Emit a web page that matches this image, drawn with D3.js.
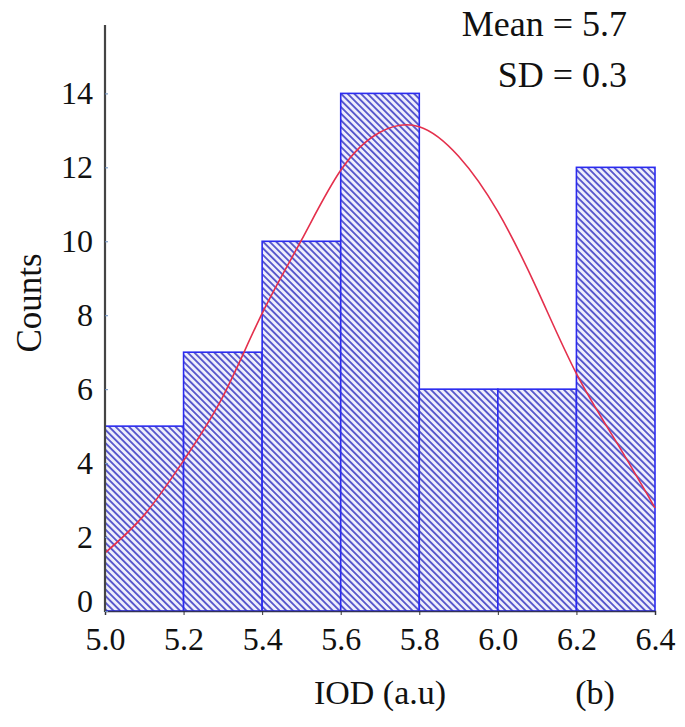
<!DOCTYPE html>
<html>
<head>
<meta charset="utf-8">
<script src="https://cdn.jsdelivr.net/npm/d3@7"></script>
<style>
  body { margin: 0; background: #fff; }
  svg text { font-family: "Liberation Serif", "Times New Roman", serif !important; fill: #111; }
</style>
</head>
<body>
<script>
// histogram bins (IOD, a.u) and counts
var binEdges = [5.0, 5.2, 5.4, 5.6, 5.8, 6.0, 6.2, 6.4];
var counts = [5, 7, 10, 14, 6, 6, 12];

// fitted normal curve
var fitX = [5.0, 5.1, 5.2, 5.3, 5.4, 5.5, 5.6, 5.7, 5.8, 5.9, 6.0, 6.1, 6.2, 6.3, 6.4];
var fitY = [1.57, 2.6, 4.07, 5.8, 8.05, 10.03, 11.92, 12.95, 13.1, 12.3, 10.8, 8.7, 6.42, 4.6, 2.79];

var xTicks = [5.0, 5.2, 5.4, 5.6, 5.8, 6.0, 6.2, 6.4];
var yTicks = [0, 2, 4, 6, 8, 10, 12, 14];
var statsText = ["Mean = 5.7", "SD = 0.3"];

var width = 685, height = 727;
var serif = "'Liberation Serif', 'Times New Roman', serif";

var svg = d3.select("body").append("svg")
    .attr("width", width)
    .attr("height", height)
    .style("font-family", serif);

var xScale = d3.scaleLinear()
    .domain([5.0, 6.4])
    .range([105, 655]);

var yScale = d3.scaleLinear()
    .domain([0, 15.85])
    .range([611, 25]);

// hatch pattern for the bars
var defs = svg.append("defs");
var pat = defs.append("pattern")
    .attr("id", "hatch")
    .attr("patternUnits", "userSpaceOnUse")
    .attr("width", 4.7)
    .attr("height", 10)
    .attr("patternTransform", "rotate(-45)");
pat.append("rect")
    .attr("width", 4.7).attr("height", 10)
    .attr("fill", "#efeffc");
pat.append("rect")
    .attr("x", 0).attr("width", 1.9).attr("height", 10)
    .attr("fill", "#5858cc");

var bins = counts.map(function(c, i) {
  return {x0: binEdges[i], x1: binEdges[i + 1], n: c};
});

svg.selectAll("rect.bar")
    .data(bins)
  .enter().append("rect")
    .attr("class", "bar")
    .attr("x", function(d) { return xScale(d.x0); })
    .attr("y", function(d) { return yScale(d.n); })
    .attr("width", function(d) { return xScale(d.x1) - xScale(d.x0); })
    .attr("height", function(d) { return yScale(0) - yScale(d.n); })
    .attr("fill", "url(#hatch)")
    .attr("stroke", "#2b2bf0")
    .attr("stroke-width", 1.6);

// normal fit
var line = d3.line()
    .x(function(d) { return xScale(d[0]); })
    .y(function(d) { return yScale(d[1]); })
    .curve(d3.curveNatural);

svg.append("path")
    .datum(fitX.map(function(v, i) { return [v, fitY[i]]; }))
    .attr("d", line)
    .attr("fill", "none")
    .attr("stroke", "#e4304c")
    .attr("stroke-width", 1.6);

// axes
var xAxis = svg.append("g")
    .attr("transform", "translate(0," + yScale(0) + ")")
    .call(d3.axisBottom(xScale).tickValues(xTicks).tickFormat(d3.format(".1f")).tickSize(4).tickPadding(12));
xAxis.attr("font-family", null);
xAxis.select(".domain").attr("stroke", "#333355").attr("stroke-width", 1.5);
xAxis.selectAll(".tick line").attr("stroke", "#333");
xAxis.selectAll(".tick text").attr("font-size", 32).style("font-family", serif).attr("fill", "#111");

var yAxis = svg.append("g")
    .attr("transform", "translate(" + xScale(5.0) + ",0)")
    .call(d3.axisLeft(yScale).tickValues(yTicks).tickSize(-3).tickPadding(12));
yAxis.attr("font-family", null);
yAxis.select(".domain").attr("stroke", "#444").attr("stroke-width", 2.2)
    .attr("d", "M0," + yScale(15.85) + "V" + (yScale(0) + 1));
yAxis.selectAll(".tick line").attr("stroke", "#6a8fc0");
yAxis.selectAll(".tick text").attr("font-size", 32).style("font-family", serif).attr("fill", "#111");
// the zero label sits a little above its tick in the original
yAxis.selectAll(".tick text").filter(function(d) { return d === 0; })
    .attr("y", -10);

// labels
svg.append("text")
    .attr("transform", "translate(41,303) rotate(-90)")
    .attr("text-anchor", "middle")
    .attr("font-size", 35)
    .text("Counts");

svg.append("text")
    .attr("x", 380).attr("y", 704)
    .attr("text-anchor", "middle")
    .attr("font-size", 34)
    .text("IOD (a.u)");

svg.append("text")
    .attr("x", 595).attr("y", 704)
    .attr("text-anchor", "middle")
    .attr("font-size", 34)
    .text("(b)");

svg.selectAll("text.stat")
    .data(statsText)
  .enter().append("text")
    .attr("class", "stat")
    .attr("x", 627)
    .attr("y", function(d, i) { return 36 + i * 51; })
    .attr("text-anchor", "end")
    .attr("font-size", 36)
    .text(function(d) { return d; });
</script>
</body>
</html>
